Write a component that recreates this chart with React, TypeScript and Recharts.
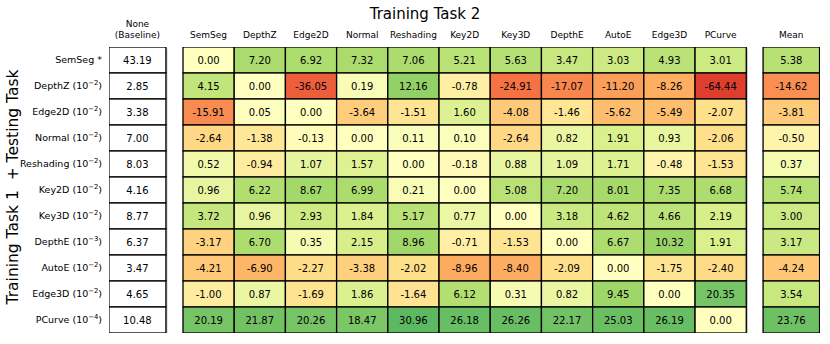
import React from 'react';
import { ScatterChart, Scatter, XAxis, YAxis } from 'recharts';

// ---------- data ----------
const trainTasks = ['SemSeg', 'DepthZ', 'Edge2D', 'Normal', 'Reshading', 'Key2D', 'Key3D', 'DepthE', 'AutoE', 'Edge3D', 'PCurve'];
const testTasks = ['SemSeg', 'DepthZ', 'Edge2D', 'Normal', 'Reshading', 'Key2D', 'Key3D', 'DepthE', 'AutoE', 'Edge3D', 'PCurve'];
const testExponents: (number | null)[] = [null, -2, -2, -2, -2, -2, -2, -3, -2, -2, -4];

const baselineValues = [43.19, 2.85, 3.38, 7.0, 8.03, 4.16, 8.77, 6.37, 3.47, 4.65, 10.48];
const meanValues = [5.38, -14.62, -3.81, -0.5, 0.37, 5.74, 3.0, 3.17, -4.24, 3.54, 23.76];

const gainsSemSeg = [0.0, 7.2, 6.92, 7.32, 7.06, 5.21, 5.63, 3.47, 3.03, 4.93, 3.01];
const gainsDepthZ = [4.15, 0.0, -36.05, 0.19, 12.16, -0.78, -24.91, -17.07, -11.2, -8.26, -64.44];
const gainsEdge2D = [-15.91, 0.05, 0.0, -3.64, -1.51, 1.6, -4.08, -1.46, -5.62, -5.49, -2.07];
const gainsNormal = [-2.64, -1.38, -0.13, 0.0, 0.11, 0.1, -2.64, 0.82, 1.91, 0.93, -2.06];
const gainsReshading = [0.52, -0.94, 1.07, 1.57, 0.0, -0.18, 0.88, 1.09, 1.71, -0.48, -1.53];
const gainsKey2D = [0.96, 6.22, 8.67, 6.99, 0.21, 0.0, 5.08, 7.2, 8.01, 7.35, 6.68];
const gainsKey3D = [3.72, 0.96, 2.93, 1.84, 5.17, 0.77, 0.0, 3.18, 4.62, 4.66, 2.19];
const gainsDepthE = [-3.17, 6.7, 0.35, 2.15, 8.96, -0.71, -1.53, 0.0, 6.67, 10.32, 1.91];
const gainsAutoE = [-4.21, -6.9, -2.27, -3.38, -2.02, -8.96, -8.4, -2.09, 0.0, -1.75, -2.4];
const gainsEdge3D = [-1.0, 0.87, -1.69, 1.86, -1.64, 6.12, 0.31, 0.82, 9.45, 0.0, 20.35];
const gainsPCurve = [20.19, 21.87, 20.26, 18.47, 30.96, 26.18, 26.26, 22.17, 25.03, 26.19, 0.0];

const gainMatrix = [
  gainsSemSeg, gainsDepthZ, gainsEdge2D, gainsNormal, gainsReshading, gainsKey2D,
  gainsKey3D, gainsDepthE, gainsAutoE, gainsEdge3D, gainsPCurve,
];

// column positions (axis units; main columns sit at 0..10)
const BASELINE_X = -1.39;
const MEAN_X = 11.38;

// ---------- derived point lists ----------
const mainPoints = gainMatrix.flatMap((row, r) => row.map((v, c) => ({ x: c, y: r, value: v })));
const baselinePoints = baselineValues.map((v, r) => ({ x: BASELINE_X, y: r, value: v }));
const meanPoints = meanValues.map((v, r) => ({ x: MEAN_X, y: r, value: v }));

// ---------- styling ----------
const FONT = 'DejaVu Sans, sans-serif';
const RDYLGN = ['#a50026', '#d73027', '#f46d43', '#fdae61', '#fee08b', '#ffffbf', '#d9ef8b', '#a6d96a', '#66bd63', '#1a9850', '#006837'];

function hexToRgb(h: string) {
  return [parseInt(h.slice(1, 3), 16), parseInt(h.slice(3, 5), 16), parseInt(h.slice(5, 7), 16)];
}
function colorFor(v: number) {
  let t = 0.5 + Math.sign(v) * 0.09 * Math.log1p(Math.abs(v));
  t = Math.max(0, Math.min(1, t));
  const pos = t * (RDYLGN.length - 1);
  const i = Math.min(Math.floor(pos), RDYLGN.length - 2);
  const f = pos - i;
  const a = hexToRgb(RDYLGN[i]);
  const b = hexToRgb(RDYLGN[i + 1]);
  const c = a.map((av, k) => Math.round(av + (b[k] - av) * f));
  return `rgb(${c[0]},${c[1]},${c[2]})`;
}

const CELL_H = 26;
const makeShape = (w: number, colored: boolean) => (props: any) => {
  const { cx, cy, payload } = props;
  if (cx == null || cy == null) return <g />;
  const x = cx - w / 2;
  const y = cy - CELL_H / 2;
  return (
    <g>
      <rect x={x + 1.5} y={y + 1.5} width={w} height={CELL_H} fill="#b8b8b8" />
      <rect x={x} y={y} width={w} height={CELL_H} fill={colored ? colorFor(payload.value) : '#ffffff'} stroke="#000" strokeWidth={1.3} />
      <text x={cx} y={cy + 3.6} textAnchor="middle" fontSize={10} fontFamily={FONT} fill="#000">
        {payload.value.toFixed(2)}
      </text>
    </g>
  );
};

const XTick = (props: any) => {
  const { x, payload } = props;
  const v = payload.value;
  if (Math.abs(v - BASELINE_X) < 0.01) {
    return (
      <text x={x} textAnchor="middle" fontSize={9} fontFamily={FONT} fill="#000">
        <tspan x={x} y={27}>None</tspan>
        <tspan x={x} y={38}>(Baseline)</tspan>
      </text>
    );
  }
  const label = Math.abs(v - MEAN_X) < 0.01 ? 'Mean' : trainTasks[Math.round(v)];
  return (
    <text x={x} y={38} textAnchor="middle" fontSize={9} fontFamily={FONT} fill="#000">
      {label}
    </text>
  );
};

const YTick = (props: any) => {
  const { y, payload } = props;
  const i = Math.round(payload.value);
  const exp = testExponents[i];
  return (
    <text x={102} y={y + 3.4} textAnchor="end" fontSize={9.5} fontFamily={FONT} fill="#000">
      {exp == null ? (
        `${testTasks[i]} *`
      ) : (
        <>
          {`${testTasks[i]} (10`}
          <tspan dy={-4} fontSize={6.8}>{`\u2212${Math.abs(exp)}`}</tspan>
          <tspan dy={4}>)</tspan>
        </>
      )}
    </text>
  );
};

export default function App() {
  return (
    <div style={{ position: 'absolute', left: 0, top: 0, width: 830, height: 344, background: '#fff' }}>
      <ScatterChart width={830} height={344} margin={{ top: 17, right: 10, bottom: 11, left: 9 }}>
        <XAxis
          type="number"
          dataKey="x"
          orientation="top"
          domain={[-1.945, 11.94]}
          allowDataOverflow
          ticks={[BASELINE_X, 0, 1, 2, 3, 4, 5, 6, 7, 8, 9, 10, MEAN_X]}
          interval={0}
          axisLine={false}
          tickLine={false}
          height={30}
          tick={<XTick />}
        />
        <YAxis
          type="number"
          dataKey="y"
          reversed
          domain={[-0.5, 10.5]}
          allowDataOverflow
          ticks={[0, 1, 2, 3, 4, 5, 6, 7, 8, 9, 10]}
          interval={0}
          axisLine={false}
          tickLine={false}
          width={100}
          tick={<YTick />}
        />
        <Scatter data={baselinePoints} isAnimationActive={false} shape={makeShape(57, false)} />
        <Scatter data={mainPoints} isAnimationActive={false} shape={makeShape(51.2, true)} />
        <Scatter data={meanPoints} isAnimationActive={false} shape={makeShape(56.5, true)} />
      </ScatterChart>
      <svg width={830} height={344} style={{ position: 'absolute', left: 0, top: 0, pointerEvents: 'none' }}>
        <text x={425} y={19} textAnchor="middle" fontSize={15} fontFamily={FONT} fill="#000">
          Training Task 2
        </text>
        <text
          x={0}
          y={0}
          transform="translate(18,187) rotate(-90)"
          textAnchor="middle"
          fontSize={15.5}
          fontFamily={FONT}
          fill="#000"
          style={{ whiteSpace: 'pre' }}
        >
          Training Task 1  + Testing Task
        </text>
      </svg>
    </div>
  );
}
